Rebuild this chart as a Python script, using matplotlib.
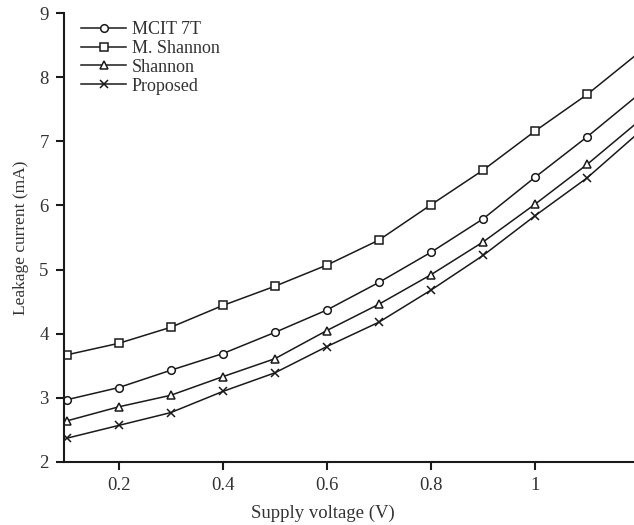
import matplotlib
matplotlib.use('Agg')
import matplotlib.pyplot as plt

# supply voltage sweep (V); last point is where the lines leave the frame
voltage = [0.1, 0.2, 0.3, 0.4, 0.5, 0.6, 0.7, 0.8, 0.9, 1.0, 1.1, 1.19]

# leakage current (mA) for each cell
mcit_7t = [2.97, 3.16, 3.43, 3.69, 4.02, 4.37, 4.80, 5.27, 5.79, 6.44, 7.07, 7.67]
m_shannon = [3.67, 3.85, 4.10, 4.44, 4.74, 5.07, 5.46, 6.01, 6.55, 7.16, 7.73, 8.32]
shannon = [2.64, 2.86, 3.04, 3.33, 3.61, 4.05, 4.46, 4.92, 5.43, 6.02, 6.64, 7.25]
proposed = [2.37, 2.57, 2.77, 3.10, 3.39, 3.80, 4.18, 4.68, 5.22, 5.84, 6.43, 7.07]

labels = ['MCIT 7T', 'M. Shannon', 'Shannon', 'Proposed']
markers = ['o', 's', '^', 'x']

plt.rcParams['font.family'] = ['Liberation Serif', 'DejaVu Serif']

fig = plt.figure(figsize=(6.34, 5.25), dpi=100)
ax = fig.add_axes([64 / 634, 1 - 462 / 525, 1 - 64 / 634, (462 - 13) / 525])

lineColor = '#1a1a1a'
for series, label, marker in zip([mcit_7t, m_shannon, shannon, proposed], labels, markers):
    ax.plot(voltage, series, color=lineColor, linewidth=1.1, marker=marker,
            markersize=5.5 if marker != 'x' else 6, markerfacecolor='white',
            markeredgecolor=lineColor, markeredgewidth=1.1,
            markevery=slice(0, 11), label=label)

ax.set_xlim(0.095, 1.19)
ax.set_ylim(2, 9)
ax.set_xticks([0.2, 0.4, 0.6, 0.8, 1.0])
ax.set_xticklabels(['0.2', '0.4', '0.6', '0.8', '1'])
ax.set_yticks(range(2, 10))

for side in ['top', 'right']:
    ax.spines[side].set_visible(False)
for side in ['left', 'bottom']:
    ax.spines[side].set_linewidth(1.5)
    ax.spines[side].set_color('#1a1a1a')
ax.tick_params(direction='out', length=6, width=1.5, colors='#1a1a1a',
               labelsize=13.5, labelcolor='#333333', pad=5)

ax.set_xlabel('Supply voltage (V)', fontsize=13.5, color='#333333')
ax.xaxis.set_label_coords(0.454, -0.095)
ax.set_ylabel('Leakage current (mA)', fontsize=12.5, color='#333333')
ax.yaxis.set_label_coords(-0.062, 0.5)

ax.legend(loc='upper left', bbox_to_anchor=(0.016, 1.0), frameon=False, fontsize=13,
          handlelength=2.5, handletextpad=0.3, labelspacing=0.1, borderaxespad=0.05,
          labelcolor='#333333')

fig.savefig('out.png', dpi=100)
